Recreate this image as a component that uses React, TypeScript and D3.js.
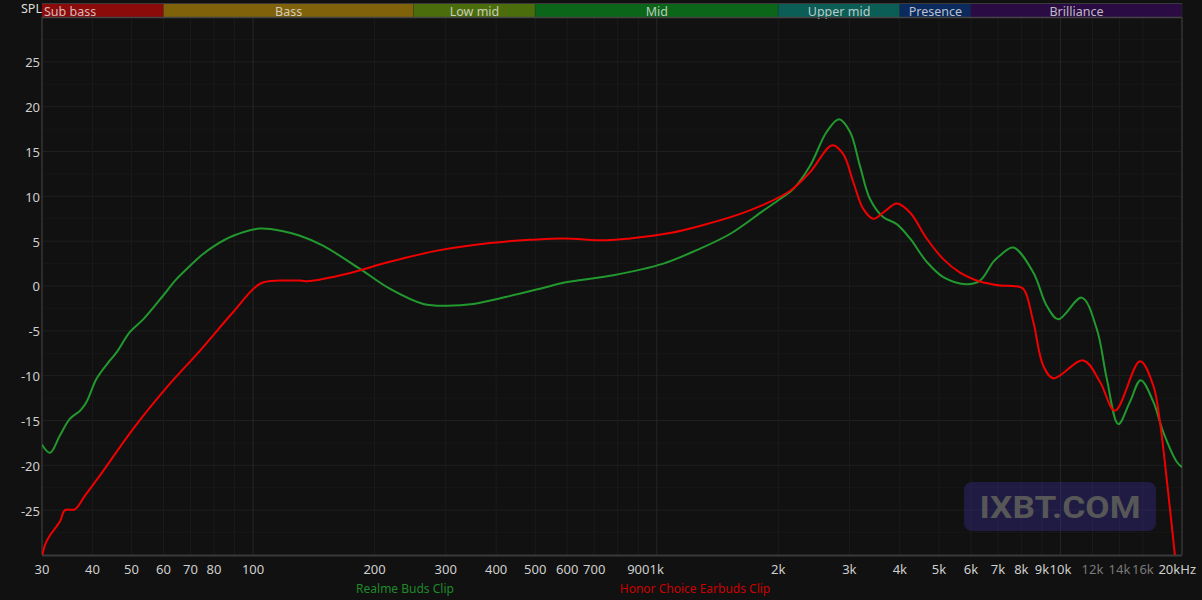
import React from "react";
import * as d3 from "d3";

const W = 1202;
const H = 600;

const bandNames = ["Sub bass", "Bass", "Low mid", "Mid", "Upper mid", "Presence", "Brilliance"];
const bandEdges = [30, 60, 250, 500, 2000, 4000, 6000, 20000];
const bandColors = ["#8b0a0a", "#80620a", "#4b6d0c", "#0b6619", "#0b5e56", "#0b2a5e", "#2a0b44"];

const gridFreqs = [30, 40, 50, 60, 70, 80, 90, 100, 200, 300, 400, 500, 600, 700, 800, 900, 1000,
  2000, 3000, 4000, 5000, 6000, 7000, 8000, 9000, 10000, 12000, 14000, 16000, 20000];
const tickFreqs = [30, 40, 50, 60, 70, 80, 100, 200, 300, 400, 500, 600, 700, 900, 1000,
  2000, 3000, 4000, 5000, 6000, 7000, 8000, 9000, 10000, 12000, 14000, 16000];
const tickLabels = ["30", "40", "50", "60", "70", "80", "100", "200", "300", "400", "500", "600", "700", "900", "1k",
  "2k", "3k", "4k", "5k", "6k", "7k", "8k", "9k", "10k", "12k", "14k", "16k"];
const dimLabels = ["12k", "14k", "16k"];
const yTicks = [-25, -20, -15, -10, -5, 0, 5, 10, 15, 20, 25];

const seriesNames = ["Realme Buds Clip", "Honor Choice Earbuds Clip"];
const seriesColors = ["#22992e", "#f00000"];
const legendColors = ["#1e8a2a", "#cc0000"];

const realmeFreq = [30, 31.4, 33.2, 35.2, 37.3, 38.7, 41.0, 44.2, 45.9, 49.6, 53.5, 59.9, 64.1, 68.5, 73.9, 79.7,
  89.3, 104, 118.8, 130.7, 149, 184, 218, 264, 302, 351, 425, 514, 587, 781, 1038, 1255, 1518, 1836, 2020,
  2178, 2397, 2636, 2827, 3010, 3186, 3374, 3634, 3930, 4239, 4662, 5125, 5857, 6318, 6816, 7084, 7641,
  8564, 9245, 9875, 11290, 12300, 13018, 13909, 14868, 15802, 16977, 17974, 19403, 20000];
const realmeSpl = [-17.7, -18.6, -16.7, -14.8, -13.9, -12.9, -10.3, -8.3, -7.4, -5.1, -3.7, -1.06, 0.6, 1.9, 3.3, 4.4,
  5.6, 6.4, 6.1, 5.6, 4.5, 1.9, -0.3, -2.0, -2.2, -2.0, -1.2, -0.3, 0.36, 1.2, 2.5, 4.0, 5.8, 8.4, 9.7,
  10.8, 13.4, 17.2, 18.6, 17.2, 13.4, 9.7, 7.7, 6.9, 5.3, 2.7, 1.0, 0.2, 0.6, 2.7, 3.4, 4.3,
  1.5, -2.2, -3.7, -1.3, -4.8, -10.3, -15.4, -12.9, -10.5, -12.9, -16.3, -19.6, -20.2];

const honorFreq = [30, 30.5, 31.4, 33.2, 34.2, 36.2, 38.3, 41.8, 50.5, 61.1, 73.9, 89.3, 104, 116.6, 130.7, 138,
  171, 218, 290, 386, 485, 587, 751, 858, 1078, 1304, 1577, 1802, 2138, 2397, 2721, 2897, 3067, 3247,
  3438, 3640, 3930, 4239, 4662, 5125, 5638, 6318, 6690, 7084, 7641, 8088, 8564, 9066, 9600, 11391,
  12531, 13647, 15738, 16977, 17640, 18327, 19182, 20000];
const honorSpl = [-30.2, -28.9, -27.8, -26.3, -25.0, -24.9, -23.4, -21.1, -15.9, -11.3, -7.2, -2.9, 0.25, 0.6, 0.6, 0.55,
  1.36, 2.7, 4.0, 4.8, 5.15, 5.3, 5.1, 5.3, 5.9, 6.8, 7.9, 8.9, 10.6, 12.7, 15.7, 14.7, 11.6, 8.6,
  7.5, 8.2, 9.2, 8.2, 5.3, 3.0, 1.5, 0.5, 0.25, 0.05, 0.0, -0.3, -4.0, -8.9, -10.3, -8.3,
  -10.7, -13.9, -8.4, -11.1, -15.2, -21.5, -29.8, -38];

const FONT = "'Noto Sans', 'Open Sans', sans-serif";

export default function App() {
  const left = 42, right = 1182, top = 17, bottom = 555;
  const x = d3.scaleLog().domain([30, 20000]).range([left, right]);
  const y = d3.scaleLinear().domain([-30, 30]).range([bottom, top]);

  const line = d3.line<[number, number]>()
    .x((d) => x(d[0]))
    .y((d) => y(d[1]))
    .curve(d3.curveCatmullRom.alpha(0.5));

  const realme = realmeFreq.map((f, i) => [f, realmeSpl[i]] as [number, number]);
  const honor = honorFreq.map((f, i) => [f, honorSpl[i]] as [number, number]);

  const minorY = d3.range(-27.5, 30, 5);
  const decades = [100, 1000, 10000];

  return (
    <svg width={W} height={H} style={{ position: "absolute", left: 0, top: 0, background: "#111111" }}
      fontFamily={FONT}>
      <rect x={0} y={0} width={W} height={H} fill="#111111" />
      <defs>
        <clipPath id="plot">
          <rect x={left} y={top} width={right - left} height={bottom - top} />
        </clipPath>
      </defs>
      {minorY.map((v) => (
        <line key={"my" + v} x1={left} x2={right} y1={y(v)} y2={y(v)} stroke="#171717" strokeWidth={1} />
      ))}
      {yTicks.map((v) => (
        <line key={"gy" + v} x1={left} x2={right} y1={y(v)} y2={y(v)} stroke="#1f1f1f" strokeWidth={1} />
      ))}
      {gridFreqs.map((f) => (
        <line key={"gx" + f} x1={x(f)} x2={x(f)} y1={top} y2={bottom}
          stroke={decades.includes(f) ? "#262626" : "#1b1b1b"} strokeWidth={1} />
      ))}
      {bandNames.map((name, i) => {
        const x0 = x(bandEdges[i]);
        const x1 = x(bandEdges[i + 1]);
        return (
          <g key={name}>
            <rect x={x0} y={3} width={x1 - x0} height={14.5} fill={bandColors[i]} />
            <line x1={x1} x2={x1} y1={3} y2={17} stroke="#2a2a2a" strokeWidth={1} opacity={0.6} />
            <text x={i === 0 ? x0 + 2 : (x0 + x1) / 2} y={13} fontSize={12.5}
              textAnchor={i === 0 ? "start" : "middle"} dominantBaseline="middle"
              fill="rgba(235,235,235,0.78)">{name}</text>
          </g>
        );
      })}
      <line x1={left} x2={right} y1={3.5} y2={3.5} stroke="#3a3a3a" strokeWidth={1} />
      <line x1={left} x2={right} y1={17.5} y2={17.5} stroke="#444" strokeWidth={1.5} />
      <text x={21} y={10} fontSize={12.5} fill="#dddddd" dominantBaseline="middle">SPL</text>

      <line x1={left} x2={left} y1={top} y2={bottom} stroke="#333" strokeWidth={1.5} />
      <line x1={right} x2={right} y1={top} y2={bottom} stroke="#333" strokeWidth={1.5} />
      <line x1={left} x2={right} y1={bottom + 0.5} y2={bottom + 0.5} stroke="#3a3a3a" strokeWidth={2} />

      {yTicks.map((v) => (
        <text key={"yl" + v} x={40} y={y(v) + 2} fontSize={13} textAnchor="end" dominantBaseline="middle"
          fill="#cfcfcf">{v}</text>
      ))}
      {tickFreqs.map((f, i) => (
        <text key={"xl" + f} x={x(f)} y={571} fontSize={13} textAnchor="middle" dominantBaseline="middle"
          fill={dimLabels.includes(tickLabels[i]) ? "#7a7a7a" : "#cfcfcf"}>{tickLabels[i]}</text>
      ))}
      <text x={1196} y={571} fontSize={13} textAnchor="end" dominantBaseline="middle" fill="#cfcfcf">20kHz</text>

      <g clipPath="url(#plot)">
        <path d={line(realme) || ""} fill="none" stroke={seriesColors[0]} strokeWidth={2} />
        <path d={line(honor) || ""} fill="none" stroke={seriesColors[1]} strokeWidth={2} />
      </g>

      <rect x={964} y={482} width={192} height={49} rx={8} fill="rgba(55,45,150,0.38)" />
      <text x={1060} y={507} fontSize={31} fontWeight={700} fontFamily="Roboto, 'Open Sans', sans-serif"
        textAnchor="middle" dominantBaseline="central" fill="#575757" textLength={161}
        lengthAdjust="spacingAndGlyphs">IXBT.COM</text>

      <text x={405} y={590} fontSize={12} textAnchor="middle" dominantBaseline="middle" fill={legendColors[0]}>
        {seriesNames[0]}</text>
      <text x={695} y={590} fontSize={12} textAnchor="middle" dominantBaseline="middle" fill={legendColors[1]}>
        {seriesNames[1]}</text>
    </svg>
  );
}
